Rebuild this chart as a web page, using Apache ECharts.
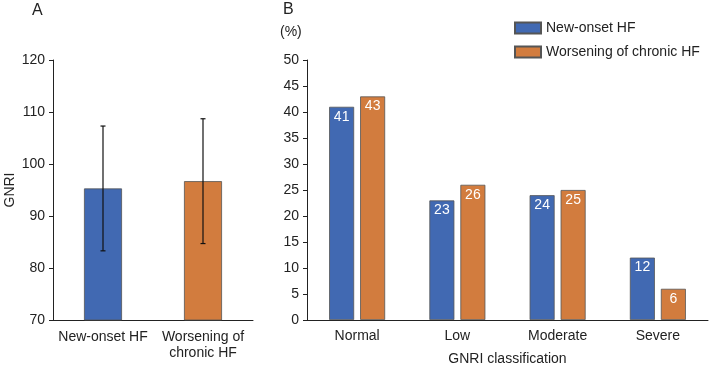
<!DOCTYPE html>
<html>
<head>
<meta charset="utf-8">
<script src="https://cdn.jsdelivr.net/npm/echarts@6/dist/echarts.min.js"></script>
<style>
  html, body { margin: 0; padding: 0; background: #fff; }
  #chart { width: 709px; height: 366px; }
</style>
</head>
<body>
<div id="chart"></div>
<script>
// panel A: mean GNRI with SD
const groupsA = ['New-onset HF', 'Worsening of\nchronic HF'];
const meanA = [95.3, 96.7];
const sdA = [12.0, 12.0];

// panel B: GNRI classification distribution (%)
const categoriesB = ['Normal', 'Low', 'Moderate', 'Severe'];
const newOnset = [41, 23, 24, 12];
const worsening = [43, 26, 25, 6];

const BLUE = '#4169b2';
const ORANGE = '#d27c3e';
const FONT = 'Liberation Sans, Arial, sans-serif';
const TXT = '#222';
const FS = 14;

const myChart = echarts.init(document.getElementById('chart'));

const axisLine = { show: true, lineStyle: { color: '#222', width: 1 } };
const tickLabel = { color: TXT, fontSize: FS, fontFamily: FONT };
const titleStyle = { fontSize: 16, fontWeight: 'normal', color: TXT, fontFamily: FONT };

const option = {
  animation: false,
  textStyle: { fontFamily: FONT },
  title: [
    { text: 'A', left: 32, top: 3, padding: 0, textStyle: titleStyle },
    { text: 'B', left: 283, top: 2, padding: 0, textStyle: titleStyle },
    { text: '(%)', left: 280, top: 25, padding: 0, textStyle: { fontSize: FS, fontWeight: 'normal', color: TXT, fontFamily: FONT } }
  ],
  legend: {
    data: ['New-onset HF', 'Worsening of chronic HF'],
    orient: 'vertical',
    left: 514,
    top: 21,
    padding: 0,
    icon: 'rect',
    itemWidth: 26,
    itemHeight: 11,
    itemGap: 10,
    textStyle: { fontSize: FS, color: TXT, fontFamily: FONT }
  },
  grid: [
    { left: 53, right: 456, top: 60, bottom: 46, outerBoundsMode: 'none' },
    { left: 307, right: 1, top: 60, bottom: 46, outerBoundsMode: 'none' }
  ],
  xAxis: [
    {
      gridIndex: 0, type: 'category', data: groupsA,
      axisLine: axisLine, axisTick: { show: false },
      axisLabel: Object.assign({ margin: 9, lineHeight: 16, interval: 0 }, tickLabel)
    },
    {
      gridIndex: 1, type: 'category', data: categoriesB,
      axisLine: axisLine, axisTick: { show: false },
      axisLabel: Object.assign({ margin: 9, interval: 0 }, tickLabel),
      name: 'GNRI classification', nameLocation: 'middle', nameGap: 32,
      nameTextStyle: { fontSize: FS, color: TXT, fontFamily: FONT }
    }
  ],
  yAxis: [
    {
      gridIndex: 0, type: 'value', min: 70, max: 120, interval: 10,
      axisLine: axisLine, axisTick: { show: true, length: 4, lineStyle: { color: '#222' } },
      splitLine: { show: false },
      axisLabel: Object.assign({ margin: 8 }, tickLabel),
      name: 'GNRI', nameLocation: 'middle', nameGap: 36, nameRotate: 90,
      nameTextStyle: { fontSize: FS, color: TXT, fontFamily: FONT }
    },
    {
      gridIndex: 1, type: 'value', min: 0, max: 50, interval: 5,
      axisLine: axisLine, axisTick: { show: true, length: 4, lineStyle: { color: '#222' } },
      splitLine: { show: false },
      axisLabel: Object.assign({ margin: 8 }, tickLabel)
    }
  ],
  series: [
    {
      type: 'bar', xAxisIndex: 0, yAxisIndex: 0,
      barWidth: '38%',
      data: meanA.map((v, i) => ({
        value: v,
        itemStyle: { color: i === 0 ? BLUE : ORANGE, borderColor: '#555', borderWidth: 0.8 }
      }))
    },
    {
      type: 'custom', xAxisIndex: 0, yAxisIndex: 0,
      data: meanA.map((v, i) => [i, v - sdA[i], v + sdA[i]]),
      renderItem: function (params, api) {
        const lo = api.coord([api.value(0), api.value(1)]);
        const hi = api.coord([api.value(0), api.value(2)]);
        const w = 2.5;
        const style = { stroke: '#111', lineWidth: 1.2 };
        return {
          type: 'group',
          children: [
            { type: 'line', shape: { x1: hi[0], y1: hi[1], x2: lo[0], y2: lo[1] }, style: style },
            { type: 'line', shape: { x1: hi[0] - w, y1: hi[1], x2: hi[0] + w, y2: hi[1] }, style: style },
            { type: 'line', shape: { x1: lo[0] - w, y1: lo[1], x2: lo[0] + w, y2: lo[1] }, style: style }
          ]
        };
      },
      z: 5
    },
    {
      name: 'New-onset HF', type: 'bar', xAxisIndex: 1, yAxisIndex: 1,
      barWidth: 25, barGap: '24%',
      itemStyle: { color: BLUE, borderColor: '#555', borderWidth: 0.8 },
      label: { show: true, position: 'insideTop', distance: 3, color: '#fff', fontSize: FS, fontFamily: FONT },
      data: newOnset
    },
    {
      name: 'Worsening of chronic HF', type: 'bar', xAxisIndex: 1, yAxisIndex: 1,
      barWidth: 25, barGap: '24%',
      itemStyle: { color: ORANGE, borderColor: '#555', borderWidth: 0.8 },
      label: { show: true, position: 'insideTop', distance: 3, color: '#fff', fontSize: FS, fontFamily: FONT },
      data: worsening
    }
  ]
};

myChart.setOption(option);
</script>
</body>
</html>
